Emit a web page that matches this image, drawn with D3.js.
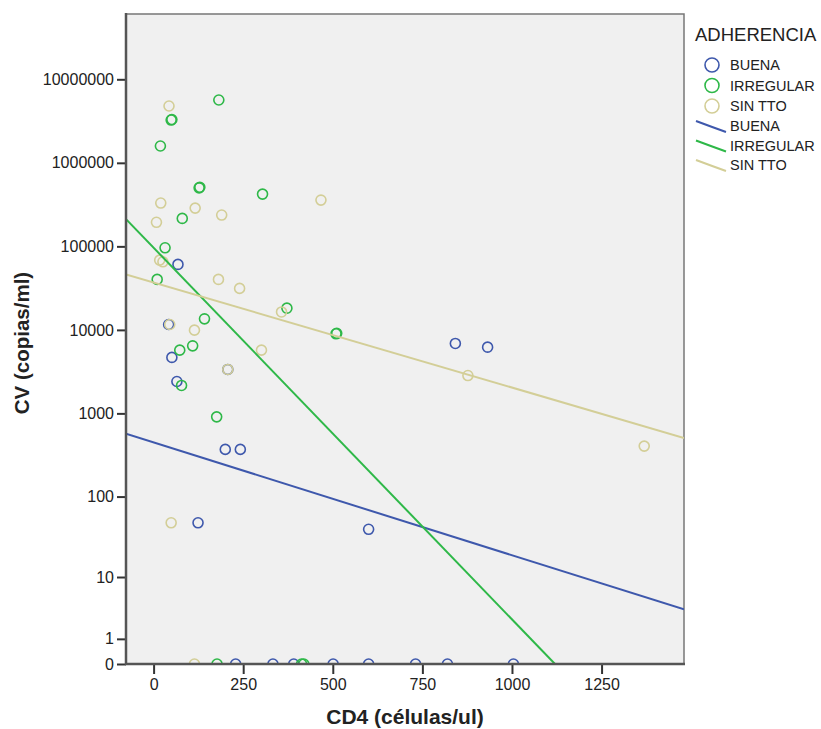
<!DOCTYPE html>
<html>
<head>
<meta charset="utf-8">
<script src="https://cdn.jsdelivr.net/npm/d3@7"></script>
<style>
  body { margin: 0; background: #fff; }
  text { font-family: "Liberation Sans", Arial, sans-serif; fill: #222; }
</style>
</head>
<body>
<div id="viz"></div>
<script>

// data
let groups = ['BUENA', 'IRREGULAR', 'SIN TTO']

let buenaCD4 = [68, 42, 51, 65, 207, 200, 242, 124, 600, 842, 932, 229, 333, 391, 501, 600, 731, 820, 1004]
let buenaCV = [60800, 11600, 4680, 2410, 3360, 370, 370, 48, 40, 6880, 6210, 0, 0, 0, 0, 0, 0, 0, 0]

let irregularCD4 = [182, 49, 51, 19, 127, 129, 304, 80, 32, 10, 142, 73, 109, 78, 176, 372, 509, 511, 177, 413, 419]
let irregularCV = [5650000, 3250000, 3300000, 1590000, 502000, 510000, 422000, 216000, 96100, 40200, 13560, 5720, 6440, 2160, 908, 18200, 8970, 9100, 0, 0, 0]

let sinttoCD4 = [43, 20, 116, 190, 8, 467, 17, 26, 181, 240, 357, 45, 114, 301, 207, 877, 1369, 49, 114]
let sinttoCV = [4790000, 330000, 287000, 237000, 194000, 358000, 68400, 65300, 40200, 31400, 16400, 11600, 9930, 5720, 3360, 2840, 405, 48, 0]

// fit lines: log10(CV+1) = intercept + slope * CD4
let fitIntercept = [2.653, 4.984, 4.567]
let fitSlope = [-0.001351, -0.00445, -0.001257]

let yTicks = [0, 1, 10, 100, 1000, 10000, 100000, 1000000, 10000000]
let xTicks = [0, 250, 500, 750, 1000, 1250]

let colors = ['#3E58AC', '#2EB848', '#D3CE97']

let width = 821, height = 729
let pLeft = 126, pRight = 684, pTop = 14, pBottom = 664

let svg = d3.select('#viz')
			.append('svg')
			.attr('width', width)
			.attr('height', height)

let x = d3.scaleLinear()
			.domain([-77, 1480])
			.range([pLeft, pRight])

// log10(v+1) style axis
let y = d3.scaleSymlog()
			.constant(1)
			.domain([0, 6.05e7])
			.range([pBottom, pTop])

svg.append('clipPath')
	.attr('id', 'plotclip')
	.append('rect')
	.attr('x', pLeft)
	.attr('y', pTop)
	.attr('width', pRight - pLeft)
	.attr('height', pBottom - pTop)

svg.append('rect')
	.attr('x', pLeft)
	.attr('y', pTop)
	.attr('width', pRight - pLeft)
	.attr('height', pBottom - pTop)
	.attr('fill', '#F0F0F0')
	.attr('stroke', '#777')
	.attr('stroke-width', 1.5)

let plot = svg.append('g').attr('clip-path', 'url(#plotclip)')

let series = [
	{cd4: buenaCD4, cv: buenaCV},
	{cd4: irregularCD4, cv: irregularCV},
	{cd4: sinttoCD4, cv: sinttoCV}
]

series.forEach((s, i) => {
	plot.append('g')
		.selectAll('circle')
		.data(s.cd4.map((v, j) => [v, s.cv[j]]))
		.enter()
		.append('circle')
		.attr('cx', d => x(d[0]))
		.attr('cy', d => y(d[1]))
		.attr('r', 5)
		.attr('fill', 'none')
		.attr('stroke', colors[i])
		.attr('stroke-width', 1.6)
})

//fit lines, straight in log10(v+1) space, stop where they reach 0
groups.forEach((g, i) => {
	let x0 = x.domain()[0]
	let x1 = x.domain()[1]
	let xZero = -fitIntercept[i] / fitSlope[i]
	if (xZero < x1) x1 = xZero
	let pts = [x0, x1].map(v => [v, Math.max(0, Math.pow(10, fitIntercept[i] + fitSlope[i] * v) - 1)])
	if (x1 === xZero) pts[1][1] = 0
	plot.append('path')
		.attr('d', d3.line().x(d => x(d[0])).y(d => y(d[1]))(pts))
		.attr('fill', 'none')
		.attr('stroke', colors[i])
		.attr('stroke-width', 2)
})

//axes
let yAxis = svg.append('g')
				.attr('transform', `translate(${pLeft},0)`)
				.call(d3.axisLeft(y)
						.tickValues(yTicks)
						.tickFormat(d3.format('d'))
						.tickSize(9)
						.tickPadding(3))

let xAxis = svg.append('g')
				.attr('transform', `translate(0,${pBottom})`)
				.call(d3.axisBottom(x)
						.tickValues(xTicks)
						.tickFormat(d3.format('d'))
						.tickSize(10)
						.tickPadding(5))

;[yAxis, xAxis].forEach(a => {
	a.select('.domain').remove()
	a.selectAll('.tick line').attr('stroke', '#333').attr('stroke-width', 2)
	a.selectAll('.tick text')
		.style('font-family', '"Liberation Sans", Arial, sans-serif')
		.style('font-size', '16px')
		.attr('fill', '#222')
})

svg.append('line')
	.attr('x1', pLeft).attr('x2', pLeft)
	.attr('y1', pTop - 1).attr('y2', pBottom + 1)
	.attr('stroke', '#555').attr('stroke-width', 2.5)

svg.append('line')
	.attr('x1', pLeft - 1).attr('x2', pRight + 1)
	.attr('y1', pBottom).attr('y2', pBottom)
	.attr('stroke', '#555').attr('stroke-width', 2.5)

//axis titles
svg.append('text')
	.attr('x', (pLeft + pRight) / 2)
	.attr('y', 724)
	.attr('text-anchor', 'middle')
	.style('font-size', '21px')
	.style('font-weight', 'bold')
	.text('CD4 (células/ul)')

svg.append('text')
	.attr('transform', `translate(29, ${(pTop + pBottom) / 2 + 4}) rotate(-90)`)
	.attr('text-anchor', 'middle')
	.style('font-size', '20.5px')
	.style('font-weight', 'bold')
	.text('CV (copias/ml)')

//legend
let legend = svg.append('g')

legend.append('text')
	.attr('x', 695)
	.attr('y', 41)
	.style('font-size', '18.5px')
	.text('ADHERENCIA')

groups.forEach((g, i) => {
	let cy = 65 + i * 20.5
	legend.append('circle')
		.attr('cx', 712)
		.attr('cy', cy)
		.attr('r', 7)
		.attr('fill', 'none')
		.attr('stroke', colors[i])
		.attr('stroke-width', 1.6)
	legend.append('text')
		.attr('x', 730)
		.attr('y', cy)
		.attr('dy', '0.36em')
		.style('font-size', '14.5px')
		.text(g)
})

groups.forEach((g, i) => {
	let cy = 126 + i * 19.5
	legend.append('path')
		.attr('d', `M696,${cy - 5} Q712,${cy + 1} 726,${cy + 6}`)
		.attr('fill', 'none')
		.attr('stroke', colors[i])
		.attr('stroke-width', 2)
	legend.append('text')
		.attr('x', 730)
		.attr('y', cy)
		.attr('dy', '0.36em')
		.style('font-size', '14.5px')
		.text(g)
})

</script>
</body>
</html>
